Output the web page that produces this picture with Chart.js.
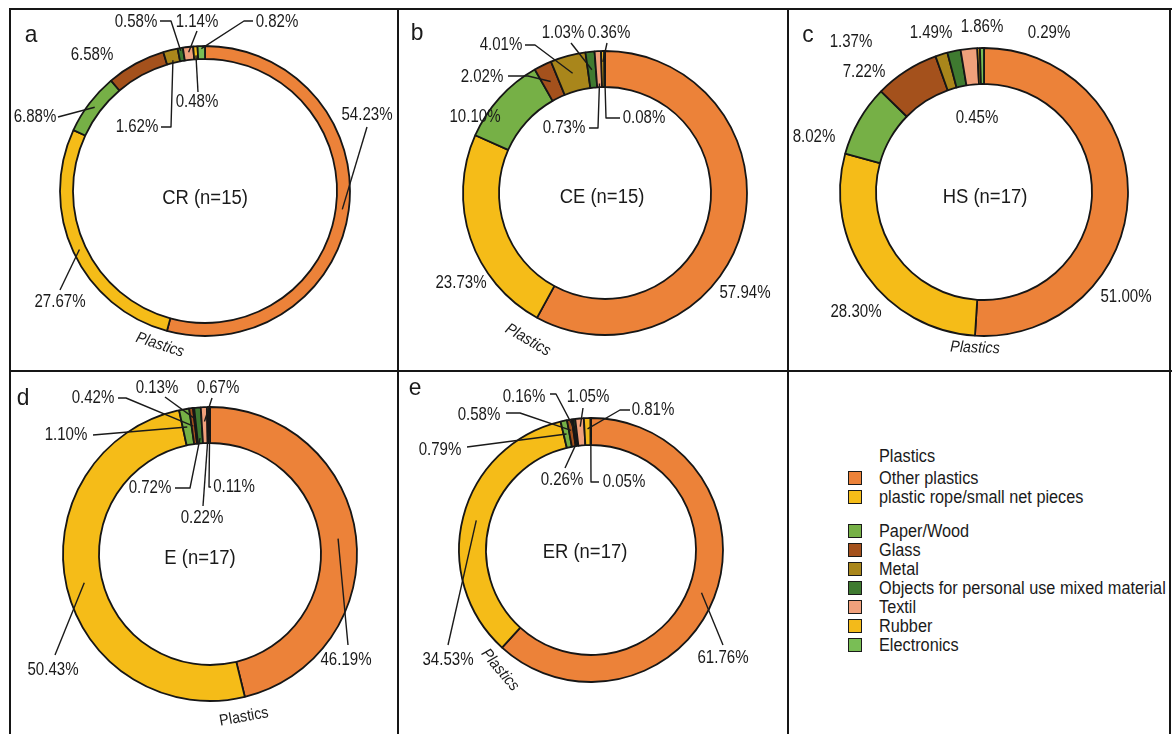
<!DOCTYPE html>
<html>
<head>
<meta charset="utf-8">
<title>Litter composition by site</title>
<script src="https://cdn.jsdelivr.net/npm/chart.js@4.4.1/dist/chart.umd.min.js"></script>
<style>
  html, body { margin: 0; padding: 0; background: #fff; }
  body { width: 1172px; height: 734px; overflow: hidden; font-family: "Liberation Sans", Arial, sans-serif; color: #1a1a1a; }
  #stage { position: relative; width: 1172px; height: 734px; }
  #stage canvas { position: absolute; left: 0; top: 0; }
  .rule { position: absolute; background: #161616; }
  #legend { position: absolute; left: 0; top: 0; width: 1172px; height: 734px; pointer-events: none; }
  .lg-row { position: absolute; left: 848px; height: 19px; display: flex; align-items: center; white-space: nowrap; }
  .lg-box { width: 12px; height: 12px; border: 1.8px solid #1a1a1a; margin-right: 17px; flex: none; }
  .lg-text { font-size: 17.5px; line-height: 19px; transform: scaleX(0.93); transform-origin: left center; display: inline-block; }
</style>
</head>
<body>
<div id="stage">
  <div id="legend"></div>
</div>
<script>
// ---- data ----
const categories = ['Other plastics', 'plastic rope/small net pieces', 'Paper/Wood', 'Glass', 'Metal',
  'Objects for personal use mixed material', 'Textil', 'Rubber', 'Electronics'];
const plasticGroup = ['Other plastics', 'plastic rope/small net pieces'];
const sites = ['CR', 'CE', 'HS', 'E', 'ER'];
const sampleSizes = [15, 15, 17, 17, 17];
const panelLetters = ['a', 'b', 'c', 'd', 'e'];
const crValues = [54.23, 27.67, 6.88, 6.58, 1.62, 0.58, 1.14, 0.48, 0.82];
const ceValues = [57.94, 23.73, 10.10, 2.02, 4.01, 1.03, 0.73, 0.36, 0.08];
const hsValues = [51.00, 28.30, 8.02, 7.22, 1.37, 1.49, 1.86, 0.29, 0.45];
const eValues  = [46.19, 50.43, 1.10, 0.42, 0.13, 0.72, 0.67, 0.22, 0.11];
const erValues = [61.76, 34.53, 0.79, 0.58, 0.16, 0.26, 1.05, 0.81, 0.05];
const siteValues = [crValues, ceValues, hsValues, eValues, erValues];

// ---- styling ----
const colors = ['#EC8239', '#F5BC18', '#76B046', '#A4511C', '#A9861B', '#3F7A30', '#F0A07B', '#F3BA1A', '#79BE55'];
const W = 1172, H = 734;
const FONT = '"Liberation Sans", Arial, sans-serif';
const INK = '#1a1a1a';

// ring geometry of each panel (centre, outer and inner radius)
const rings = [
  { cx: 205, cy: 191, R: 145, r: 132 },
  { cx: 605, cy: 193, R: 142, r: 106 },
  { cx: 984, cy: 192, R: 144, r: 108 },
  { cx: 210, cy: 554, R: 147, r: 111 },
  { cx: 591, cy: 550, R: 132, r: 105 }
];

// panel furniture: letter, site title, group caption
const furniture = [
  { letter: [31, 35],  title: [205, 198], group: { x: 160, y: 345, rot: 18,  italic: true } },
  { letter: [417, 33], title: [602, 197], group: { x: 528, y: 340, rot: 30,  italic: true } },
  { letter: [808, 35], title: [985, 197], group: { x: 975, y: 348, rot: 2,   italic: true } },
  { letter: [23, 398], title: [200, 558], group: { x: 244, y: 717, rot: -10, italic: false } },
  { letter: [415, 388],title: [585, 552], group: { x: 500, y: 670, rot: 50,  italic: true } }
];

// value label placement; leader paths end on the slice they describe
const labelLayouts = [
  [
    { i: 0, x: 367, y: 115, path: [[367, 127]] },
    { i: 1, x: 60,  y: 302, path: [[60, 290]] },
    { i: 2, x: 35,  y: 117, path: [[58, 117]] },
    { i: 3, x: 92,  y: 55 },
    { i: 4, x: 137, y: 127, path: [[161, 127], [171, 127]], f: 0.2 },
    { i: 5, x: 136, y: 22,  path: [[160, 21], [171, 21]], f: 0.8 },
    { i: 6, x: 197, y: 22,  path: [[197, 31]], f: 0.6 },
    { i: 7, x: 197, y: 102, path: [[198, 92]], f: 0.3 },
    { i: 8, x: 277, y: 22,  path: [[253, 21], [244, 21]], f: 0.8 }
  ],
  [
    { i: 0, x: 745, y: 293 },
    { i: 1, x: 461, y: 283 },
    { i: 2, x: 475, y: 117 },
    { i: 3, x: 482, y: 77,  path: [[508, 76], [528, 76]] },
    { i: 4, x: 501, y: 45,  path: [[525, 45], [535, 45]] },
    { i: 5, x: 563, y: 33,  path: [[571, 43]] },
    { i: 6, x: 564, y: 128, path: [[589, 128], [598, 128]], f: 0.1 },
    { i: 7, x: 609, y: 33,  path: [[607, 43]], f: 0.7 },
    { i: 8, x: 644, y: 118, path: [[620, 118], [606, 118]], f: 0.4 }
  ],
  [
    { i: 0, x: 1126, y: 297 },
    { i: 1, x: 856,  y: 312 },
    { i: 2, x: 814,  y: 137 },
    { i: 3, x: 864,  y: 72 },
    { i: 4, x: 851,  y: 42 },
    { i: 5, x: 931,  y: 33 },
    { i: 6, x: 982,  y: 27 },
    { i: 7, x: 1049, y: 33 },
    { i: 8, x: 977,  y: 118 }
  ],
  [
    { i: 0, x: 346, y: 660, path: [[348, 645]] },
    { i: 1, x: 53,  y: 670, path: [[55, 655]] },
    { i: 2, x: 66,  y: 435, path: [[93, 435]] },
    { i: 3, x: 93,  y: 398, path: [[118, 398], [126, 398]] },
    { i: 4, x: 157, y: 388, path: [[165, 397]], f: 0.7 },
    { i: 5, x: 150, y: 488, path: [[175, 488], [190, 488]], f: 0.15 },
    { i: 6, x: 218, y: 388, path: [[212, 398]], f: 0.6 },
    { i: 7, x: 202, y: 518, path: [[203, 506]], f: 0.3 },
    { i: 8, x: 234, y: 487, path: [[211, 487], [209, 487]], f: 0.2 }
  ],
  [
    { i: 0, x: 723, y: 658, path: [[723, 645]] },
    { i: 1, x: 448, y: 660, path: [[448, 645]] },
    { i: 2, x: 440, y: 450, path: [[467, 447]] },
    { i: 3, x: 479, y: 415, path: [[506, 413], [520, 413]], f: 0.6 },
    { i: 4, x: 524, y: 397, path: [[550, 394], [556, 394]], f: 0.7 },
    { i: 5, x: 562, y: 480, path: [[565, 468]], f: 0.15 },
    { i: 6, x: 588, y: 397, path: [[583, 408]], f: 0.7 },
    { i: 7, x: 653, y: 410, path: [[630, 410], [620, 410]], f: 0.6 },
    { i: 8, x: 624, y: 482, path: [[599, 482], [591, 482]], f: 0.3 }
  ]
];

// ---- helpers ----
function drawText(ctx, text, x, y, o) {
  ctx.save();
  ctx.translate(x, y);
  if (o.rot) ctx.rotate(o.rot * Math.PI / 180);
  ctx.scale(o.sx || 0.87, 1);
  ctx.font = (o.italic ? 'italic ' : '') + o.size + 'px ' + FONT;
  ctx.textAlign = o.align || 'center';
  ctx.textBaseline = 'middle';
  ctx.fillStyle = INK;
  ctx.fillText(text, 0, 0);
  ctx.restore();
}

const pct = v => v.toFixed(2) + '%';

// draws value labels with leader lines, the site title, panel letter and group caption
const panelNotes = {
  id: 'panelNotes',
  afterDatasetsDraw(chart, args, opts) {
    const ctx = chart.ctx;
    const meta = chart.getDatasetMeta(0);
    const values = chart.data.datasets[0].data;
    ctx.save();
    ctx.strokeStyle = INK;
    ctx.lineWidth = 1.4;
    ctx.lineJoin = 'round';
    opts.labels.forEach(l => {
      if (l.path) {
        const p = meta.data[l.i].getProps(['x', 'y', 'startAngle', 'endAngle', 'innerRadius', 'outerRadius'], true);
        const mid = (p.startAngle + p.endAngle) / 2;
        const f = l.f === undefined ? 0.5 : l.f;
        const rr = p.innerRadius + f * (p.outerRadius - p.innerRadius);
        ctx.beginPath();
        ctx.moveTo(l.path[0][0], l.path[0][1]);
        l.path.slice(1).forEach(q => ctx.lineTo(q[0], q[1]));
        ctx.lineTo(p.x + rr * Math.cos(mid), p.y + rr * Math.sin(mid));
        ctx.stroke();
      }
    });
    opts.labels.forEach(l => drawText(ctx, pct(values[l.i]), l.x, l.y, { size: 17.5, sx: 0.86 }));
    const fx = opts.furniture;
    drawText(ctx, opts.title, fx.title[0], fx.title[1], { size: 20.5, sx: 0.9 });
    drawText(ctx, opts.letter, fx.letter[0], fx.letter[1], { size: 24, sx: 0.95 });
    drawText(ctx, 'Plastics', fx.group.x, fx.group.y, { size: 16, sx: 0.9, rot: fx.group.rot, italic: fx.group.italic });
    ctx.restore();
  }
};

// ---- frame rules ----
const stage = document.getElementById('stage');
function rule(x, y, w, h) {
  const d = document.createElement('div');
  d.className = 'rule';
  d.style.left = x + 'px'; d.style.top = y + 'px';
  d.style.width = w + 'px'; d.style.height = h + 'px';
  stage.appendChild(d);
}
rule(9, 8, 1163, 2);
rule(9, 370, 1163, 2);
rule(9, 8, 2, 726);
rule(397, 8, 2, 726);
rule(787, 8, 2, 726);
rule(1169, 8, 2, 726);

// ---- charts ----
siteValues.forEach((values, k) => {
  const g = rings[k];
  const half = g.R + 2;
  const cv = document.createElement('canvas');
  cv.width = W; cv.height = H;
  stage.appendChild(cv);
  new Chart(cv, {
    type: 'doughnut',
    data: {
      labels: categories,
      datasets: [{
        data: values,
        backgroundColor: colors,
        borderColor: '#161616',
        borderWidth: 1.8
      }]
    },
    options: {
      responsive: false,
      animation: false,
      events: [],
      rotation: 0,
      radius: g.R,
      cutout: (g.r / g.R * 100) + '%',
      layout: { padding: { left: g.cx - half, right: W - g.cx - half, top: g.cy - half, bottom: H - g.cy - half } },
      plugins: {
        legend: { display: false },
        tooltip: { enabled: false },
        panelNotes: {
          labels: labelLayouts[k],
          furniture: furniture[k],
          title: sites[k] + ' (n=' + sampleSizes[k] + ')',
          letter: panelLetters[k]
        }
      }
    },
    plugins: [panelNotes]
  });
});

// ---- legend ----
const legend = document.getElementById('legend');
const title = document.createElement('div');
title.className = 'lg-row';
title.style.top = (456 - 9.5) + 'px';
title.innerHTML = '<span class="lg-box" style="visibility:hidden"></span><span class="lg-text">Plastics</span>';
legend.appendChild(title);
categories.forEach((name, i) => {
  const row = document.createElement('div');
  row.className = 'lg-row';
  const centre = 478 + i * 19 + (plasticGroup.includes(name) ? 0 : 15);
  row.style.top = (centre - 9.5) + 'px';
  const box = document.createElement('span');
  box.className = 'lg-box';
  box.style.background = colors[i];
  const txt = document.createElement('span');
  txt.className = 'lg-text';
  txt.textContent = name;
  row.appendChild(box); row.appendChild(txt);
  legend.appendChild(row);
});
</script>
</body>
</html>
